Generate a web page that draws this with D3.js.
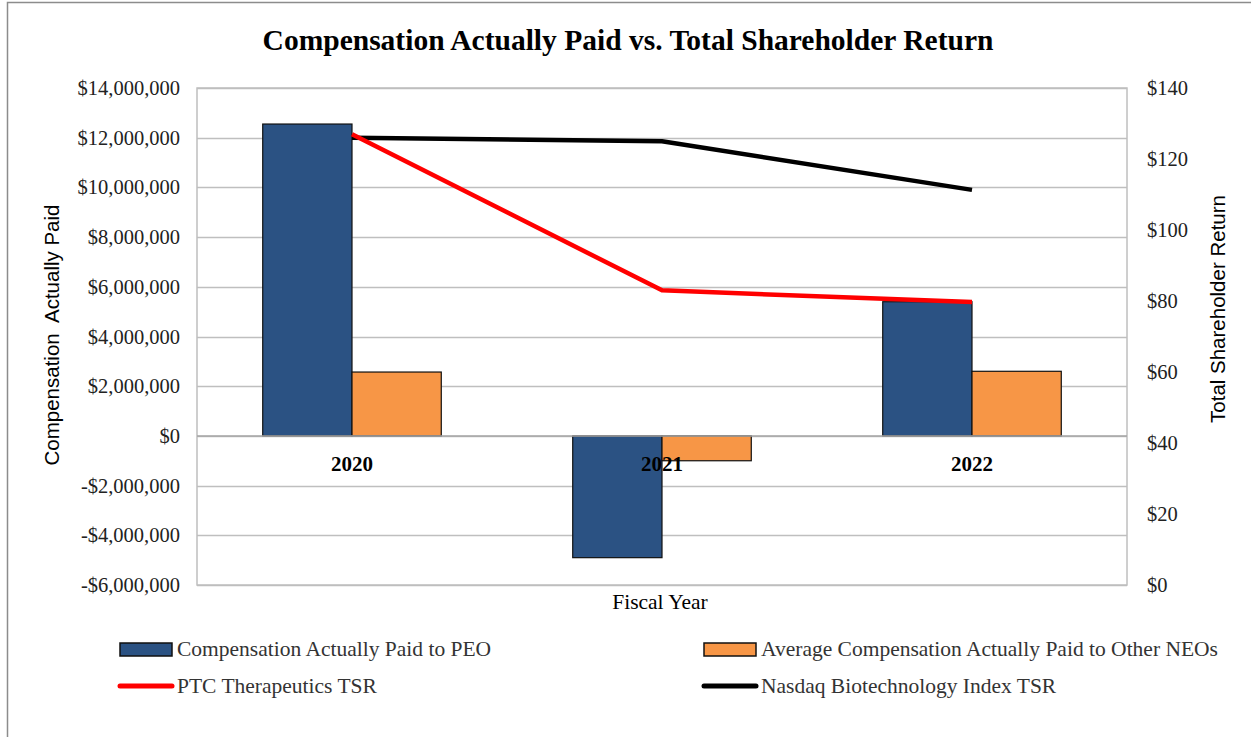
<!DOCTYPE html>
<html>
<head>
<meta charset="utf-8">
<script src="https://cdn.jsdelivr.net/npm/d3@7"></script>
<style>
  html, body { margin: 0; padding: 0; background: #fff; }
  svg { display: block; }
</style>
</head>
<body>
<div id="chart"></div>
<script>
// Dữ liệu
const years = ["2020", "2021", "2022"];
const peoPaid = [12550000, -4900000, 5400000];
const neoPaid = [2570000, -1000000, 2600000];
const ptcTSR = [127, 83, 79.7];
const nasdaqTSR = [126, 125, 111.3];
const leftTicks = [-6e6, -4e6, -2e6, 0, 2e6, 4e6, 6e6, 8e6, 10e6, 12e6, 14e6];
const rightTicks = [0, 20, 40, 60, 80, 100, 120, 140];

const W = 1251, H = 737;
const plot = { left: 197, right: 1127, top: 88, bottom: 585 };

const serif = "'Liberation Serif', 'Times New Roman', serif";
const sans = "'Liberation Sans', Arial, sans-serif";
const blue = "#2b5283", orange = "#f79646";

const svg = d3.select("#chart").append("svg")
  .attr("width", W).attr("height", H);

// khung ngoài
svg.append("rect")
  .attr("x", 7.5).attr("y", 2.5)
  .attr("width", W + 10).attr("height", H + 10)
  .attr("fill", "none").attr("stroke", "#8c8c8c").attr("stroke-width", 1.5);

// Scales
const x0 = d3.scaleBand()
  .domain(years)
  .range([plot.left, plot.right])
  .paddingInner(0.424).paddingOuter(0.212);
const x1 = d3.scaleBand()
  .domain(["peo", "neo"])
  .range([0, x0.bandwidth()]);
const y = d3.scaleLinear().domain([-6e6, 14e6]).range([plot.bottom, plot.top]);
const y2 = d3.scaleLinear().domain([0, 140]).range([plot.bottom, plot.top]);
const cx = d => x0(d) + x0.bandwidth() / 2;

// Grid
svg.append("g")
  .selectAll("line").data(leftTicks).enter().append("line")
    .attr("x1", plot.left).attr("x2", plot.right)
    .attr("y1", d => Math.round(y(d)) + 0.5).attr("y2", d => Math.round(y(d)) + 0.5)
    .attr("stroke", "#bfbfbf").attr("stroke-width", 1.5);

// plot border
svg.append("rect")
  .attr("x", plot.left).attr("y", plot.top)
  .attr("width", plot.right - plot.left).attr("height", plot.bottom - plot.top)
  .attr("fill", "none").attr("stroke", "#bfbfbf").attr("stroke-width", 1.5);

// Axes
const fmtMoney = v => (v < 0 ? "-$" : "$") + d3.format(",")(Math.abs(v));
const leftAxis = svg.append("g")
  .attr("transform", `translate(${plot.left},0)`)
  .call(d3.axisLeft(y).tickValues(leftTicks).tickFormat(fmtMoney).tickSize(0).tickPadding(17));
const rightAxis = svg.append("g")
  .attr("transform", `translate(${plot.right},0)`)
  .call(d3.axisRight(y2).tickValues(rightTicks).tickFormat(d => "$" + d).tickSize(0).tickPadding(20));
[leftAxis, rightAxis].forEach(a => {
  a.select(".domain").remove();
  a.attr("font-family", serif).attr("font-size", 20.5);
  a.selectAll("text").attr("fill", "#222");
});

// Bars
const groups = svg.append("g").selectAll("g")
  .data(years).enter().append("g")
  .attr("transform", d => `translate(${x0(d)},0)`);

groups.append("rect")
  .attr("x", x1("peo"))
  .attr("width", x1.bandwidth())
  .attr("y", (d, i) => y(Math.max(0, peoPaid[i])))
  .attr("height", (d, i) => Math.abs(y(peoPaid[i]) - y(0)))
  .attr("fill", blue).attr("stroke", "#111").attr("stroke-width", 1.2);

groups.append("rect")
  .attr("x", x1("neo"))
  .attr("width", x1.bandwidth())
  .attr("y", (d, i) => y(Math.max(0, neoPaid[i])))
  .attr("height", (d, i) => Math.abs(y(neoPaid[i]) - y(0)))
  .attr("fill", orange).attr("stroke", "#111").attr("stroke-width", 1.2);

// zero line
svg.append("line")
  .attr("x1", plot.left).attr("x2", plot.right)
  .attr("y1", y(0)).attr("y2", y(0))
  .attr("stroke", "#a6a6a6").attr("stroke-width", 1.5);

// Category labels
svg.append("g").selectAll("text")
  .data(years).enter().append("text")
    .attr("x", d => cx(d)).attr("y", y(0) + 35)
    .attr("text-anchor", "middle")
    .attr("font-family", serif).attr("font-size", 21).attr("font-weight", "bold")
    .text(d => d);

// Lines
const line = d3.line().x(d => cx(d.year)).y(d => y2(d.v));
svg.append("path")
  .datum(years.map((yr, i) => ({ year: yr, v: nasdaqTSR[i] })))
  .attr("d", line).attr("fill", "none")
  .attr("stroke", "#000").attr("stroke-width", 4.5).attr("stroke-linejoin", "round");
svg.append("path")
  .datum(years.map((yr, i) => ({ year: yr, v: ptcTSR[i] })))
  .attr("d", line).attr("fill", "none")
  .attr("stroke", "#ff0000").attr("stroke-width", 4.5).attr("stroke-linejoin", "round");

// Titles
svg.append("text")
  .attr("x", 628).attr("y", 50)
  .attr("text-anchor", "middle")
  .attr("font-family", serif).attr("font-size", 29.5).attr("font-weight", "bold")
  .text("Compensation Actually Paid vs. Total Shareholder Return");

svg.append("text")
  .attr("transform", `translate(59,335) rotate(-90)`)
  .attr("text-anchor", "middle")
  .attr("font-family", sans).attr("font-size", 20.5)
  .attr("xml:space", "preserve")
  .text("Compensation  Actually Paid");

svg.append("text")
  .attr("transform", `translate(1225,309) rotate(-90)`)
  .attr("text-anchor", "middle")
  .attr("font-family", sans).attr("font-size", 20.5)
  .text("Total Shareholder Return");

svg.append("text")
  .attr("x", 660).attr("y", 609)
  .attr("text-anchor", "middle")
  .attr("font-family", serif).attr("font-size", 21.5)
  .text("Fiscal Year");

// Legend
const legendItems = [
  { type: "bar", color: blue, label: "Compensation Actually Paid to PEO", x: 120, y: 649 },
  { type: "bar", color: orange, label: "Average Compensation Actually Paid to Other NEOs", x: 704, y: 649 },
  { type: "line", color: "#ff0000", label: "PTC Therapeutics TSR", x: 120, y: 686 },
  { type: "line", color: "#000", label: "Nasdaq Biotechnology Index TSR", x: 704, y: 686 }
];
const lg = svg.append("g").selectAll("g")
  .data(legendItems).enter().append("g")
  .attr("transform", d => `translate(${d.x},${d.y})`);
lg.filter(d => d.type === "bar").append("rect")
  .attr("x", 0).attr("y", -6).attr("width", 52).attr("height", 13)
  .attr("fill", d => d.color).attr("stroke", "#111").attr("stroke-width", 1.5);
lg.filter(d => d.type === "line").append("line")
  .attr("x1", 0).attr("x2", 52).attr("y1", 0).attr("y2", 0)
  .attr("stroke", d => d.color).attr("stroke-width", 5).attr("stroke-linecap", "round");
lg.append("text")
  .attr("x", 57).attr("y", 7)
  .attr("font-family", serif).attr("font-size", 21.5).attr("fill", "#333")
  .text(d => d.label);
</script>
</body>
</html>
